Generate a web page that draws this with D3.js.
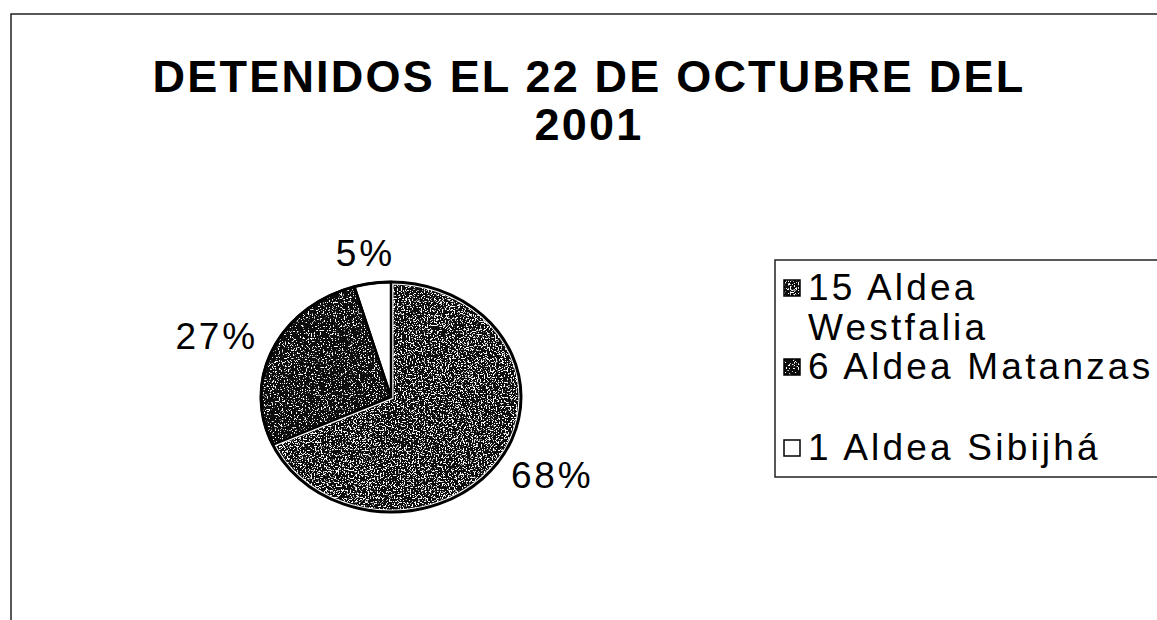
<!DOCTYPE html>
<html lang="es">
<head>
<meta charset="utf-8">
<title>Detenidos el 22 de octubre del 2001</title>
<script src="https://d3js.org/d3.v7.min.js"></script>
<style>
  body { margin: 0; background: #fff; }
  text { font-family: "Liberation Sans", Arial, sans-serif; fill: #000; }
</style>
</head>
<body>
<script>
// data
var categories = ["15 Aldea Westfalia", "6 Aldea Matanzas", "1 Aldea Sibijhá"];
var counts = [15, 6, 1];
var pctLabels = ["68%", "27%", "5%"];
var legendLines = [["15 Aldea", "Westfalia"], ["6 Aldea Matanzas"], ["1 Aldea Sibijhá"]];
var titleLines = ["DETENIDOS EL 22 DE OCTUBRE DEL", "2001"];

var w = 1157, h = 620;
var svg = d3.select("body").append("svg")
  .attr("width", w).attr("height", h);

// speckle textures (white noise dots over a dark base)
var defs = svg.append("defs");
function speckle(id, bias) {
  var f = defs.append("filter").attr("id", id)
    .attr("x", "-5%").attr("y", "-5%").attr("width", "110%").attr("height", "110%");
  f.append("feTurbulence").attr("type", "fractalNoise")
    .attr("baseFrequency", 0.75).attr("numOctaves", 2).attr("seed", 4).attr("result", "noise");
  f.append("feColorMatrix").attr("in", "noise").attr("type", "matrix")
    .attr("values", "0 0 0 0 1  0 0 0 0 1  0 0 0 0 1  14 0 0 0 " + bias)
    .attr("result", "dots");
  f.append("feComposite").attr("in", "dots").attr("in2", "SourceGraphic")
    .attr("operator", "in").attr("result", "clip");
  var m = f.append("feMerge");
  m.append("feMergeNode").attr("in", "SourceGraphic");
  m.append("feMergeNode").attr("in", "clip");
}
speckle("spk0", -7.8);
speckle("spk1", -8.4);

var fills = ["#111", "#080808", "#fff"];
var filters = ["url(#spk0)", "url(#spk1)", null];

// outer chart frame (right/bottom cut off in the scan)
svg.append("path")
  .attr("d", "M11,620 V14 H1160")
  .attr("fill", "none").attr("stroke", "#222").attr("stroke-width", 1.5);

// title
svg.append("text")
  .attr("x", 589).attr("text-anchor", "middle")
  .style("font-weight", "bold").style("font-size", "45px").style("letter-spacing", "2.2px")
  .selectAll("tspan").data(titleLines).enter().append("tspan")
  .attr("x", 589).attr("y", function(d, i) { return 92 + i * 48; })
  .text(function(d) { return d; });

// pie
var cx = 391, cy = 397, r = 115, sx = 130 / 115;
var pie = d3.pie().sort(null).value(function(d) { return d; });
var arcs = pie(counts);
var arc = d3.arc().innerRadius(0).outerRadius(r);

var g = svg.append("g").attr("transform", "translate(" + cx + "," + cy + ") scale(" + sx + ",1)");

g.selectAll("path.fill").data(arcs).enter().append("path")
  .attr("class", "fill")
  .attr("d", arc)
  .attr("fill", function(d, i) { return fills[i]; })
  .attr("stroke", function(d, i) { return i === 0 ? "#fff" : "none"; })
  .attr("stroke-width", 5)
  .attr("vector-effect", "non-scaling-stroke")
  .attr("filter", function(d, i) { return filters[i]; });

g.selectAll("path.edge").data(arcs.slice(1)).enter().append("path")
  .attr("class", "edge")
  .attr("d", arc)
  .attr("fill", "none").attr("stroke", "#000").attr("stroke-width", 2.5)
  .attr("vector-effect", "non-scaling-stroke");

g.append("circle").attr("r", r)
  .attr("fill", "none").attr("stroke", "#000").attr("stroke-width", 3)
  .attr("vector-effect", "non-scaling-stroke");

// percentage labels outside the slices
var lrx = 133, lry = 145;
svg.selectAll("text.pct").data(arcs).enter().append("text")
  .attr("class", "pct")
  .style("font-size", "37px").style("letter-spacing", "2.8px")
  .attr("text-anchor", "middle").attr("dominant-baseline", "central")
  .text(function(d, i) { return pctLabels[i]; })
  .each(function(d) {
    var a = (d.startAngle + d.endAngle) / 2;
    var s = Math.sin(a), c = -Math.cos(a);
    var half = this.getComputedTextLength() / 2;
    d3.select(this)
      .attr("x", cx + s * lrx * sx + s * half)
      .attr("y", cy + c * lry);
  });

// legend
var lg = svg.append("g");
lg.append("rect").attr("x", 775).attr("y", 260).attr("width", 400).attr("height", 217)
  .attr("fill", "#fff").attr("stroke", "#222").attr("stroke-width", 1.5);

var rowY = [300, 379, 460];
var items = lg.selectAll("g.item").data(legendLines).enter().append("g").attr("class", "item");
items.append("rect")
  .attr("x", 784).attr("y", function(d, i) { return rowY[i] - 20; })
  .attr("width", 16).attr("height", 16)
  .attr("fill", function(d, i) { return fills[i]; })
  .attr("filter", function(d, i) { return filters[i]; });
items.append("rect")
  .attr("x", 784).attr("y", function(d, i) { return rowY[i] - 20; })
  .attr("width", 16).attr("height", 16)
  .attr("fill", "none").attr("stroke", "#000").attr("stroke-width", 1.5);
items.append("text")
  .style("font-size", "37px").style("letter-spacing", "3.2px")
  .selectAll("tspan").data(function(d, i) { return d.map(function(t) { return {t: t, row: i}; }); })
  .enter().append("tspan")
  .attr("x", 808).attr("y", function(d, j) { return rowY[d.row] + j * 40; })
  .text(function(d) { return d.t; });
</script>
</body>
</html>
